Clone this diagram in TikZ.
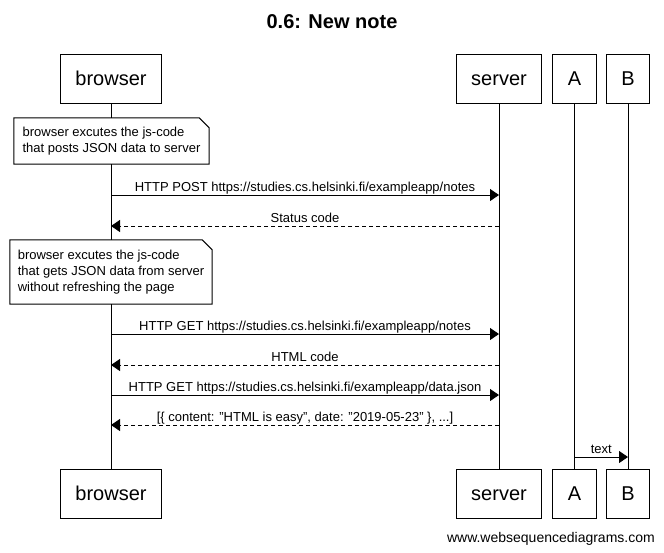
\documentclass[tikz,border=0pt]{standalone}
\usepackage{fontspec}
\setmainfont{Liberation Sans}
\usetikzlibrary{arrows.meta}

\tikzset{
    actor/.style={draw, fill=white, line width=1pt, inner xsep=15pt, inner ysep=0pt, text height=16pt, text depth=3pt, minimum height=49pt, font=\fontsize{20}{24}\selectfont},
    lifeline/.style={line width=1pt},
    msg/.style={line width=1pt, -{Triangle[length=9pt,width=12pt]}},
    reply/.style={msg, dash pattern=on 4pt off 3pt},
    lbl/.style={anchor=south, inner sep=0.5pt, text depth=3pt, font=\fontsize{13}{15}\selectfont},
    notebox/.style={fill=white, inner xsep=6pt, inner ysep=0pt, align=left, font=\fontsize{13}{16}\selectfont},
}

% dog-eared outline round a note node
\newcommand{\dogear}[1]{%
    \draw[line width=1pt] (#1.north west) -- ([xshift=-10pt]#1.north east) -- ([yshift=-10pt]#1.north east) -- (#1.south east) -- (#1.south west) -- cycle;}

\begin{document}
\begin{tikzpicture}[x=1pt, y=-1pt]

    \useasboundingbox (0,0) rectangle (664,552);

    % Title
    \node[font=\bfseries\fontsize{20}{24}\selectfont] (title) at (332,22) {0.6: New note};

    % Participants (top)
    \node[actor] (browser-top) at (111,78.5) {browser};
    \node[actor] (server-top) at (499,78.5) {server};
    \node[actor] (a-top) at (574.5,78.5) {A};
    \node[actor] (b-top) at (628,78.5) {B};

    % Participants (bottom)
    \node[actor] (browser-bot) at (111,493.5) {browser};
    \node[actor] (server-bot) at (499,493.5) {server};
    \node[actor] (a-bot) at (574.5,493.5) {A};
    \node[actor] (b-bot) at (628,493.5) {B};

    % Lifelines
    \draw[lifeline] (browser-top) -- (browser-bot);
    \draw[lifeline] (server-top) -- (server-bot);
    \draw[lifeline] (a-top) -- (a-bot);
    \draw[lifeline] (b-top) -- (b-bot);

    % Note: posting the note
    \node[notebox, minimum width=195pt, minimum height=46pt] (note-post) at (111.5,141)
        {browser excutes the js-code\\that posts JSON data to server};
    \dogear{note-post}

    % HTTP POST
    \coordinate (b-post) at (browser-top |- 0,195);
    \coordinate (s-post) at (server-top |- 0,195);
    \draw[msg] (b-post) -- node[lbl] {HTTP POST https://studies.cs.helsinki.fi/exampleapp/notes} (s-post);

    % Status code
    \coordinate (b-status) at (browser-top |- 0,226);
    \coordinate (s-status) at (server-top |- 0,226);
    \draw[reply] (s-status) -- node[lbl] {Status code} (b-status);

    % Note: reloading the notes
    \node[notebox, minimum width=202pt, minimum height=64pt] (note-get) at (111,272)
        {browser excutes the js-code\\that gets JSON data from server\\without refreshing the page};
    \dogear{note-get}

    % HTTP GET notes
    \coordinate (b-get) at (browser-top |- 0,334);
    \coordinate (s-get) at (server-top |- 0,334);
    \draw[msg] (b-get) -- node[lbl] {HTTP GET https://studies.cs.helsinki.fi/exampleapp/notes} (s-get);

    % HTML code
    \coordinate (b-html) at (browser-top |- 0,365);
    \coordinate (s-html) at (server-top |- 0,365);
    \draw[reply] (s-html) -- node[lbl] {HTML code} (b-html);

    % HTTP GET data.json
    \coordinate (b-json) at (browser-top |- 0,395);
    \coordinate (s-json) at (server-top |- 0,395);
    \draw[msg] (b-json) -- node[lbl] {HTTP GET https://studies.cs.helsinki.fi/exampleapp/data.json} (s-json);

    % JSON data
    \coordinate (b-data) at (browser-top |- 0,425);
    \coordinate (s-data) at (server-top |- 0,425);
    \draw[reply] (s-data) -- node[lbl] {[\{ content: "HTML is easy", date: "2019-05-23" \}, ...]} (b-data);

    % A to B
    \coordinate (a-text) at (a-top |- 0,457);
    \coordinate (b-text) at (b-top |- 0,457);
    \draw[msg] (a-text) -- node[lbl] {text} (b-text);

    % Footer
    \node[anchor=east, inner sep=0pt, font=\fontsize{14}{16}\selectfont] (footer) at (655,539) {www.websequencediagrams.com};

\end{tikzpicture}
\end{document}
